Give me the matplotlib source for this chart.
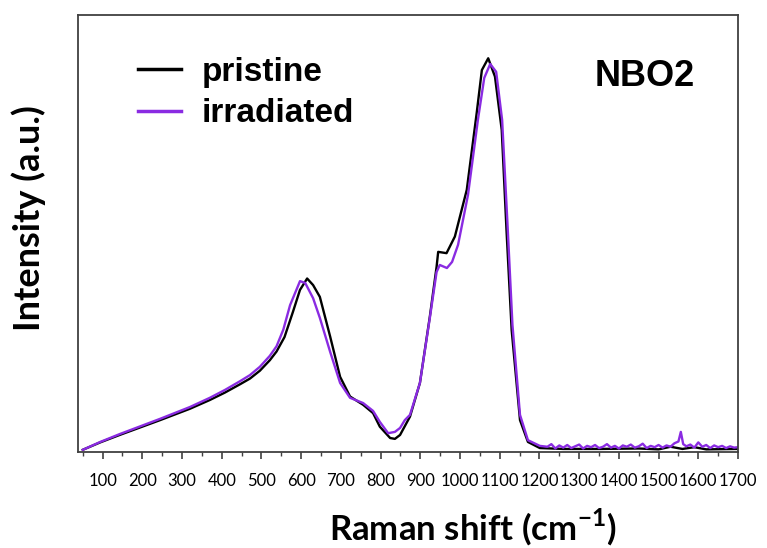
import matplotlib
matplotlib.use("Agg")
import matplotlib.pyplot as plt
from matplotlib.ticker import MultipleLocator

plt.rcParams['mathtext.fontset'] = 'custom'
plt.rcParams['mathtext.rm'] = 'Lato'
plt.rcParams['mathtext.bf'] = 'Lato:bold'

# pristine (black) - Raman shift (cm-1) and intensity (a.u.)
shift_pristine = [50, 94, 143, 245, 320, 370, 408, 446, 471, 496, 521, 538, 558,
                  579, 597, 615, 630, 647, 673, 698, 723, 756, 781, 798, 824,
                  836, 849, 874, 899, 924, 941, 945, 966, 987, 1017, 1042, 1055,
                  1071, 1088, 1105, 1117, 1130, 1151, 1171, 1201, 1260, 1352,
                  1450, 1500, 1530, 1560, 1590, 1620, 1700]
int_pristine = [0.005, 0.022, 0.039, 0.073, 0.099, 0.119, 0.136, 0.155, 0.168,
                0.186, 0.210, 0.230, 0.263, 0.320, 0.371, 0.397, 0.382, 0.355,
                0.264, 0.172, 0.127, 0.108, 0.089, 0.058, 0.032, 0.030, 0.039,
                0.081, 0.158, 0.310, 0.424, 0.458, 0.455, 0.493, 0.600, 0.776,
                0.874, 0.901, 0.859, 0.737, 0.508, 0.279, 0.073, 0.023, 0.009,
                0.007, 0.007, 0.008, 0.006, 0.012, 0.007, 0.011, 0.006, 0.007]

# irradiated (purple)
shift_irr = [50, 94, 143, 245, 320, 370, 408, 446, 471, 496, 521, 538, 555, 572,
             597, 610, 630, 647, 673, 698, 723, 756, 781, 798, 819, 836, 849,
             861, 874, 899, 924, 941, 949, 967, 980, 995, 1020, 1045, 1061, 1076,
             1091, 1106, 1119, 1132, 1151, 1171, 1201,
             1220, 1230, 1240, 1250, 1260, 1270, 1280, 1290, 1300, 1310, 1320,
             1330, 1340, 1350, 1360, 1370, 1380, 1390, 1400, 1410, 1420, 1430,
             1440, 1450, 1460, 1470, 1480, 1490, 1500, 1510, 1520, 1530, 1540,
             1550, 1556, 1562, 1570, 1580, 1590, 1600, 1610, 1620, 1630, 1640,
             1650, 1660, 1670, 1680, 1690, 1700]
int_irr = [0.005, 0.023, 0.041, 0.076, 0.103, 0.124, 0.142, 0.162, 0.176, 0.195,
           0.220, 0.242, 0.280, 0.336, 0.391, 0.387, 0.352, 0.307, 0.229, 0.158,
           0.124, 0.112, 0.094, 0.069, 0.043, 0.046, 0.055, 0.073, 0.085, 0.158,
           0.307, 0.412, 0.428, 0.421, 0.435, 0.474, 0.588, 0.760, 0.856, 0.888,
           0.870, 0.760, 0.531, 0.291, 0.085, 0.027, 0.014,
           0.012, 0.018, 0.008, 0.015, 0.010, 0.016, 0.009, 0.013, 0.017, 0.008,
           0.014, 0.011, 0.016, 0.009, 0.012, 0.018, 0.010, 0.014, 0.008, 0.015,
           0.012, 0.017, 0.010, 0.013, 0.019, 0.009, 0.014, 0.011, 0.016, 0.010,
           0.015, 0.012, 0.020, 0.024, 0.046, 0.018, 0.013, 0.017, 0.010, 0.022,
           0.012, 0.016, 0.009, 0.015, 0.011, 0.014, 0.009, 0.013, 0.010, 0.011]

x_ticks = list(range(100, 1800, 100))
sample_name = "NBO2"

fig = plt.figure(figsize=(7.67, 5.48), dpi=100)
ax = fig.add_axes([0.1017, 0.1752, 0.8605, 0.7974])

ax.plot(shift_pristine, int_pristine, color='black', lw=1.7, label='pristine')
ax.plot(shift_irr, int_irr, color='#8A2BE2', lw=1.7, label='irradiated')

ax.set_xlim(38, 1700)
ax.set_ylim(0, 1)
ax.set_xticks(x_ticks)
ax.set_xticklabels([str(t) for t in x_ticks], fontfamily='Lato', fontsize=12)
ax.xaxis.set_minor_locator(MultipleLocator(50))
ax.tick_params(axis='x', which='major', direction='out', length=5, width=1.2,
               pad=10, color='#404040')
ax.tick_params(axis='x', which='minor', direction='out', length=3, width=1.0,
               color='#404040')
ax.set_yticks([])
for s in ax.spines.values():
    s.set_color('#404040')
    s.set_linewidth(1.3)

leg = ax.legend(loc='center left', bbox_to_anchor=(138 / 767, 1 - 93 / 548),
                bbox_transform=fig.transFigure, frameon=False, borderpad=0,
                borderaxespad=0, handlelength=1.3, handletextpad=0.6,
                labelspacing=0.32,
                prop={'family': 'Liberation Sans', 'weight': 'bold', 'size': 24})
for line in leg.get_lines():
    line.set_linewidth(2.5)

ax.text(0.858, 0.86, sample_name, transform=ax.transAxes, ha='center',
        va='center', fontfamily='Liberation Sans', fontweight='bold',
        fontsize=26)

fig.text(29 / 767, 1 - 218 / 548, "Intensity (a.u.)", rotation=90,
         ha='center', va='center', fontfamily='Lato', fontweight='bold',
         fontsize=26)
fig.text(473 / 767, 1 - 527 / 548, r'Raman shift (cm$^{\mathbf{-1}}$)',
         ha='center', va='center', fontfamily='Lato', fontweight='bold',
         fontsize=25)

fig.savefig("out.png", dpi=100)
